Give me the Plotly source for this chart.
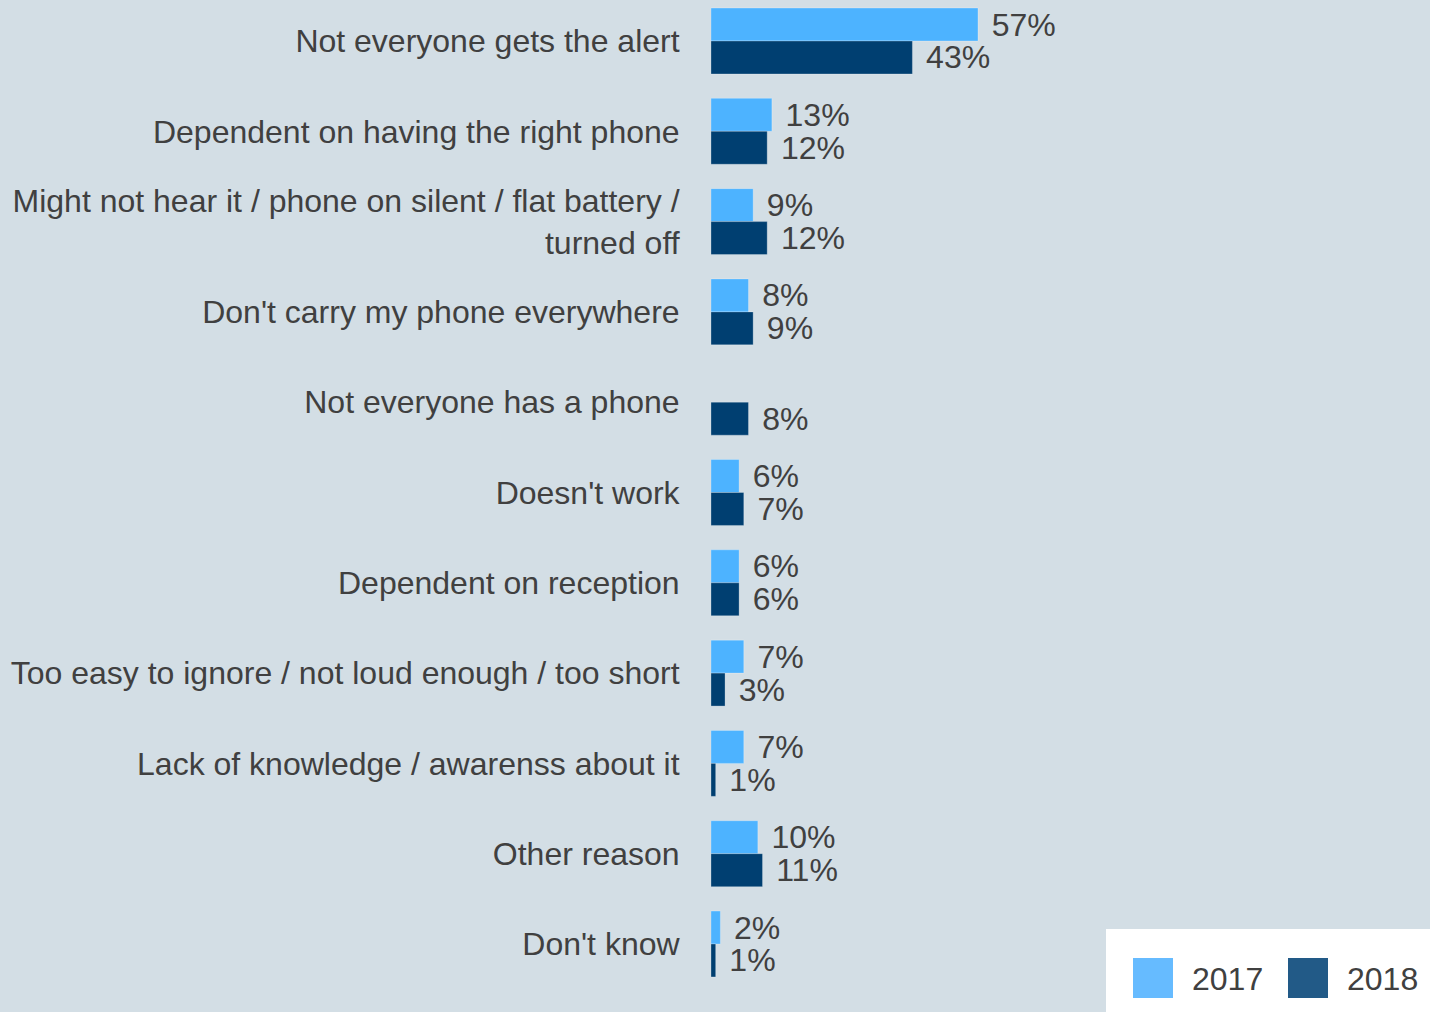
import plotly.graph_objects as go

categories = [
    "Not everyone gets the alert",
    "Dependent on having the right phone",
    "Might not hear it / phone on silent / flat battery /<br>turned off",
    "Don't carry my phone everywhere",
    "Not everyone has a phone",
    "Doesn't work",
    "Dependent on reception",
    "Too easy to ignore / not loud enough / too short",
    "Lack of knowledge / awarenss about it",
    "Other reason",
    "Don't know",
]
values_2017 = [57, 13, 9, 8, None, 6, 6, 7, 7, 10, 2]
values_2018 = [43, 12, 12, 9, 8, 7, 6, 3, 1, 11, 1]
series_names = ["2017", "2018"]

BG = "#d3dee5"
C2017 = "#4db3ff"
C2018 = "#003f71"
TXT = "#404040"
FONT = "Liberation Sans, Arial, sans-serif"
FS = 32


def labels(vals):
    return ["" if v is None else "\u2004" + f"{v}%" for v in vals]


fig = go.Figure()
for name, vals, col in [(series_names[0], values_2017, C2017), (series_names[1], values_2018, C2018)]:
    fig.add_trace(go.Bar(
        y=categories, x=vals, name=name, orientation="h",
        marker=dict(color=col, line=dict(color="rgba(255,255,255,0.25)", width=1)),
        text=labels(vals), textposition="outside", cliponaxis=False, constraintext="none",
        textfont=dict(size=FS, color=TXT, family=FONT),
        showlegend=False,
    ))

fig.update_layout(
    width=1430, height=1012,
    margin=dict(l=711, r=0, t=0, b=0, autoexpand=False),
    paper_bgcolor=BG, plot_bgcolor=BG,
    barmode="group", bargap=0.27, bargroupgap=0,
    font=dict(family=FONT, size=FS, color=TXT),
    showlegend=False,
)
fig.update_xaxes(range=[0, 153.5], visible=False, showgrid=False, zeroline=False)
fig.update_yaxes(
    categoryorder="array", categoryarray=categories,
    range=[10.753, -0.454], showgrid=False, zeroline=False, showline=False,
    ticks="outside", ticklen=24, tickcolor="rgba(0,0,0,0)",
    tickfont=dict(size=FS, color=TXT, family=FONT), automargin=False,
)

# custom legend box (bottom-right); paper coords are relative to plot area (x 711..1430, y 0..1012)
X0, XW, H = 711, 719, 1012
def px(x): return (x - X0) / XW
def py(y): return 1 - y / H

fig.add_shape(type="rect", xref="paper", yref="paper", x0=px(1106), x1=px(1431), y0=py(1013), y1=py(929),
              fillcolor="white", line=dict(width=0), layer="above")
for x0, col, name, tx in [(1133, "#66bbff", series_names[0], 1190), (1288, "#225a87", series_names[1], 1345)]:
    fig.add_shape(type="rect", xref="paper", yref="paper", x0=px(x0), x1=px(x0 + 40), y0=py(998), y1=py(958),
                  fillcolor=col, line=dict(width=0), layer="above")
    fig.add_annotation(xref="paper", yref="paper", x=px(tx), y=py(979), text=name, showarrow=False,
                       xanchor="left", yanchor="middle", font=dict(size=FS, color=TXT, family=FONT))

fig.write_html("out.html")
